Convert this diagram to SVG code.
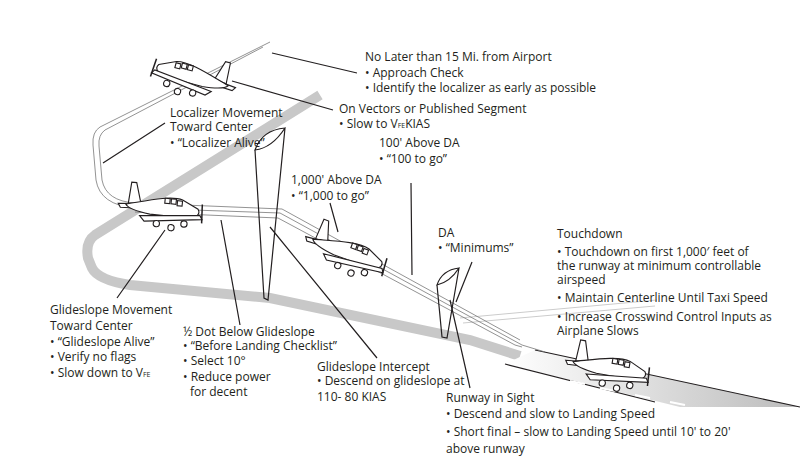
<svg xmlns="http://www.w3.org/2000/svg" width="800" height="475" viewBox="0 0 800 475">
<style>
text{font-family:"Open Sans","Liberation Sans",sans-serif;font-size:12px;fill:#231f20}
.sub{font-size:7px}
.ld{stroke:#231f20;stroke-width:1.2;fill:none}
.rb{stroke:#777;stroke-width:0.8;fill:none}
.pl{fill:#fff;stroke:#231f20;stroke-width:0.9}
</style>
<defs>
<linearGradient id="rw" x1="0" y1="0" x2="1" y2="0">
<stop offset="0" stop-color="#fff"/><stop offset="1" stop-color="#bbb"/>
</linearGradient>
<g id="plane">
<path class="pl" d="M-28,-1 L-27,-18 L-23,-18 L-18,-2 Z"/>
<path class="pl" d="M-36,0 L-15,-2 L-15,2 L-34,3 Z"/>
<path class="pl" d="M-30,0 C-15,-4 5,-11 15,-8 L28,-2 C31,2 26,6 20,6 L-10,6 C-20,5 -28,3 -30,0 Z"/>
<rect class="pl" x="1" y="-8" width="4" height="4"/><rect class="pl" x="6" y="-8" width="4" height="4"/><rect class="pl" x="11" y="-7" width="4" height="4"/>
<path class="pl" d="M-18,8 L30,3 L32,6 L-14,12 Z"/>
<circle class="pl" cx="-4" cy="13" r="2.5"/><circle class="pl" cx="18" cy="11" r="2.5"/><circle class="pl" cx="8" cy="15" r="2.5"/>
<line class="ld" x1="31" y1="-6" x2="32" y2="9"/>
</g>
</defs>
<rect width="800" height="475" fill="#fff"/>
<g id="ground">
<path d="M320,95 L95,235 Q85,242 88,258 L92,268 Q98,280 130,285 L270,298 L470,340 L520,356" stroke="#c8c8c8" stroke-width="10" fill="none"/>
<path d="M460,318 L657,300 M463,323 L655,306" stroke="#ccc" stroke-width="1" fill="none"/>
<path d="M535,350 L800,407 L680,407 L505,364 Z" fill="url(#rw)"/>
<path d="M535,350 L800,407 M505,364 L655,402" class="ld"/>
<path d="M600,388 L615,391 M635,395 L650,398 M670,402 L685,405 M585,384 L570,381" stroke="#fff" stroke-width="2"/>
</g>
<g id="path">
<path class="rb" d="M270,42 L100,127 Q92,132 93,145 L96,180 Q100,205 135,208 L280,213 L522,345 L545,352"/>
<path class="rb" d="M263,47 L105,130 Q98,135 99,146 L102,180 Q106,201 135,203 L282,209 L520,340"/>
<path class="rb" d="M135,212 L278,218 L515,345 L522,347"/>
</g>
<g id="cones">
<path class="ld" d="M255,150 Q262,130 285,128 Q272,148 255,150 Z M255,150 L264,298 L268,300 L285,128"/>
<path class="ld" d="M437,285 Q442,270 459,268 Q450,282 437,285 Z M437,285 L442,337 L447,338 L459,268"/>
</g>
<g id="planes">
<use href="#plane" transform="translate(192,76) scale(-1.25,1.25) rotate(-15)"/>
<use href="#plane" transform="translate(163,208) scale(1.25) rotate(6)"/>
<use href="#plane" transform="translate(348,252) scale(1.25) rotate(20)"/>
<use href="#plane" transform="translate(610,368) scale(1.25) rotate(10)"/>
</g>
<g id="connectors">
<path class="ld" d="M272,53 L357,73 M232,81 L333,110 M103,163 L165,123 M330,203 L338,232 M411,183 L412,275 M472,262 L456,302 M165,230 L117,298 M221,220 L240,325 M270,227 L377,358 M450,300 L470,388"/>
</g>
<g id="labels">
<text x="365" y="61">No Later than 15 Mi. from Airport</text>
<text x="365" y="77">• Approach Check</text>
<text x="365" y="92">• Identify the localizer as early as possible</text>
<text x="339" y="113">On Vectors or Published Segment</text>
<text x="339" y="128">• Slow to V<tspan class="sub">FE</tspan>KIAS</text>
<text x="170" y="117">Localizer Movement</text>
<text x="170" y="131">Toward Center</text>
<text x="170" y="147">• “Localizer Alive”</text>
<text x="379" y="147">100' Above DA</text>
<text x="379" y="163">• “100 to go”</text>
<text x="291" y="184">1,000' Above DA</text>
<text x="291" y="200">• “1,000 to go”</text>
<text x="438" y="237">DA</text>
<text x="438" y="252">• “Minimums”</text>
<text x="557" y="238">Touchdown</text>
<text x="557" y="256">• Touchdown on first 1,000′ feet of</text>
<text x="557" y="270">the runway at minimum controllable</text>
<text x="557" y="284">airspeed</text>
<text x="557" y="302">• Maintain Centerline Until Taxi Speed</text>
<text x="557" y="321">• Increase Crosswind Control Inputs as</text>
<text x="557" y="335">Airplane Slows</text>
<text x="50" y="314">Glideslope Movement</text>
<text x="50" y="330">Toward Center</text>
<text x="50" y="346">• “Glideslope Alive”</text>
<text x="50" y="361">•  Verify no flags</text>
<text x="50" y="377">• Slow down to V<tspan class="sub">FE</tspan></text>
<text x="183" y="336">½ Dot Below Glideslope</text>
<text x="183" y="350">• “Before Landing Checklist”</text>
<text x="183" y="365">• Select 10°</text>
<text x="183" y="381">• Reduce power</text>
<text x="190" y="396">for decent</text>
<text x="317" y="371">Glideslope Intercept</text>
<text x="317" y="385">• Descend on glideslope at</text>
<text x="317" y="401">110- 80 KIAS</text>
<text x="446" y="402">Runway in Sight</text>
<text x="446" y="418">• Descend and slow to Landing Speed</text>
<text x="446" y="436">• Short final – slow to Landing Speed until 10' to 20'</text>
<text x="446" y="453">above runway</text>
</g>
</svg>
